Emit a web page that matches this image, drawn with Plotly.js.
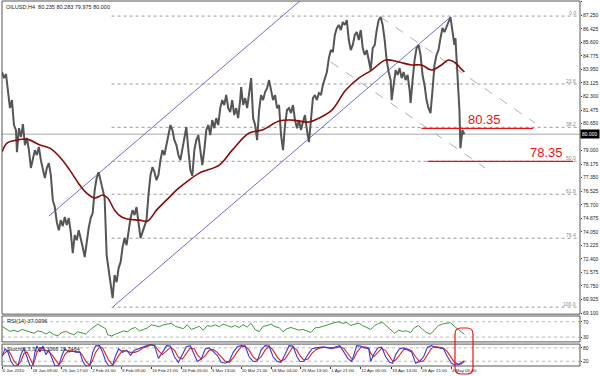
<!DOCTYPE html>
<html>
<head>
<meta charset="utf-8">
<script src="https://cdn.plot.ly/plotly-3.0.1.min.js"></script>
<style>html,body{margin:0;padding:0;background:#fff}#chart{width:600px;height:376px}</style>
</head>
<body>
<div id="chart"></div>
<script>
// ---------- DATA ----------
const symbolTitle = "OILUSD,H4  80.235 80.283 79.975 80.000";
const rsiTitle = "RSI(14) 37.0096";
const stochTitle = "Stoch(5,3,3) 22.3066 19.7464";

const xTickBars = [0,30,60,90,120,150,180,210,240,270,300,330,360,391,421,451];
const xTickText = ["6 Jan 2010","18 Jan 09:00","25 Jan 17:00","2 Feb 01:00","9 Feb 09:00","16 Feb 21:00","24 Feb 05:00","3 Mar 13:00","10 Mar 21:00","18 Mar 04:00","25 Mar 13:00","1 Apr 21:00","12 Apr 05:00","19 Apr 13:00","26 Apr 21:00","4 May 05:00"];

// price-scale labels (the 79.825 label sits under the last-price box and is not shown)
const yTickVals = [69.100,69.925,70.750,71.575,72.400,73.225,74.050,74.875,75.700,76.525,77.350,78.175,79.000,80.650,81.475,82.300,83.125,83.950,84.775,85.600,86.425,87.250,88.075];

const priceBars = [0,2,4,6,8,10,12,14,15,17,19,21,23,25,27,29,31,33,35,37,39,41,43,45,47,49,51,53,55,57,59,61,63,65,67,69,71,73,75,77,79,81,83,85,87,89,91,93,95,97,99,101,103,105,107,109,111,113,115,117,119,121,123,125,127,129,131,133,135,137,139,141,143,145,147,149,151,153,155,157,159,161,163,165,167,169,171,173,175,177,179,181,183,185,187,189,191,193,195,197,199,201,203,205,207,209,211,213,215,217,219,221,223,225,227,229,231,233,235,237,239,240,242,244,246,248,250,252,254,256,258,260,262,264,266,268,270,272,274,276,278,280,282,284,286,288,290,292,294,296,298,300,302,304,306,308,310,312,314,316,318,320,322,324,326,328,330,332,334,336,338,340,342,344,346,348,350,352,354,356,358,360,362,364,366,368,370,372,374,376,378,380,382,384,386,388,390,391,393,395,397,399,401,403,405,407,409,410,412,414,416,418,420,422,424,426,428,430,432,434,436,438,440,442,444,446,448,450,452,454,455,457,459,460,462,464];
const priceVals = [83.79,83.42,83.67,82.39,81.59,82.08,80.56,80.25,78.91,80.37,79.83,80.62,79.34,79.77,79.03,77.94,78.55,79.03,78.73,79.22,78.42,77.81,77.33,77.94,78.24,77.51,75.98,75.56,74.64,74.15,74.76,74.40,74.95,74.46,74.89,74.03,72.75,73.85,73.54,74.15,73.67,73.12,72.51,73.54,74.28,74.89,75.19,76.59,77.33,77.69,77.20,76.59,76.11,72.63,71.72,70.80,70.01,71.41,70.98,71.84,72.20,73.12,73.67,73.24,74.15,74.89,75.37,75.07,75.56,74.64,73.67,74.03,74.46,74.76,76.29,77.51,78.00,77.69,77.20,77.51,78.42,79.03,78.73,79.34,79.95,80.56,80.25,79.64,79.34,78.73,78.42,79.15,79.95,80.44,79.03,77.81,77.45,79.03,79.64,79.95,79.03,78.12,79.03,80.25,80.56,79.95,80.86,80.37,80.98,80.56,81.59,82.08,81.78,82.39,81.59,81.35,82.08,81.17,81.59,80.98,82.08,82.87,81.78,82.20,81.59,82.39,83.42,80.98,80.56,79.64,81.47,82.39,82.08,82.57,82.81,83.30,82.57,82.08,82.39,81.59,81.78,79.95,79.03,80.56,81.47,81.59,81.29,81.78,80.86,80.37,80.86,80.25,80.74,81.17,80.25,79.52,80.86,82.20,82.39,82.08,82.51,82.39,83.00,83.42,83.79,84.64,85.13,85.01,86.05,86.47,86.66,86.35,86.84,86.66,86.96,85.74,85.13,85.44,86.05,86.23,85.74,86.35,85.25,84.83,85.13,84.52,83.91,85.25,85.44,86.35,86.96,87.14,86.66,85.74,84.52,83.79,83.30,82.08,83.00,83.91,83.61,84.03,83.42,83.79,83.30,83.61,82.69,81.90,83.30,84.52,85.25,85.44,84.83,83.61,83.00,82.08,81.59,81.29,82.69,84.22,84.83,85.13,85.86,86.47,86.23,86.59,86.84,87.14,86.35,85.44,85.86,83.30,81.47,79.15,80.25,80.00];

const maBars = [0,5,15,25,38,48,58,68,78,85,93,101,106,113,120,126,138,146,155,165,175,185,198,218,231,248,261,278,291,308,318,331,345,358,371,385,398,411,421,431,441,448,455,460,464];
const maVals = [78.91,79.46,79.64,79.70,79.34,79.15,78.61,77.81,76.90,76.41,76.11,76.29,76.11,75.37,74.95,74.83,74.76,74.70,75.37,75.98,76.59,77.08,77.63,78.12,79.03,80.07,80.25,80.80,80.86,80.74,80.98,81.47,82.69,83.42,83.91,84.52,84.40,84.22,84.22,83.91,84.22,84.52,84.34,84.03,83.79];

// trend channel endpoints [bar, price]
const blueUpperBars = [47,300], blueUpperVals = [75.01,88.18];
const blueLowerBars = [111,450], blueLowerVals = [69.46,87.14];
const grayUpperBars = [380,535], grayUpperVals = [87.14,80.68];
const grayLowerBars = [330,485], grayLowerVals = [84.40,77.94];

// Fibonacci retracement
const fibLabels = ["0.0","23.6","38.2","50.0","61.8","76.4","100.0"];
const fibPrices = [87.20,83.06,80.42,78.35,76.34,73.66,69.46];
const fibStartBar = 110, fibEndBar = 578;

// support levels (red)
const levelTexts = ["80.35","78.35"];
const levelVals = [80.35,78.35];
const levelStartBars = [421,427];
const levelEndBars = [533,573];
const levelTextBars = [484,546];

const lastPrice = 80.000;

const rsiBars = [0,4,8,12,16,20,24,28,32,36,40,44,48,52,56,60,64,68,72,76,80,84,88,92,96,100,104,106,110,114,118,122,126,130,134,138,142,146,150,154,158,162,166,170,174,178,182,186,190,194,198,202,206,210,214,218,222,226,230,234,238,242,246,250,254,258,262,266,270,274,278,282,286,290,294,298,302,306,310,314,318,322,326,330,334,338,342,346,350,354,358,362,366,370,374,378,382,386,390,394,398,402,406,410,414,418,422,426,430,434,438,442,446,450,454,458,462,464];
const rsiVals = [58,52,45,48,44,50,46,42,40,46,44,38,44,36,34,42,45,40,36,44,42,38,48,56,64,58,52,36,33,38,42,46,44,52,55,46,50,54,62,60,57,62,64,66,58,55,52,62,50,54,58,48,60,58,62,57,64,60,56,60,55,62,56,66,50,44,58,60,64,57,55,44,52,55,52,48,50,45,42,54,55,58,62,66,68,70,66,68,60,64,66,60,56,50,60,66,68,58,48,40,48,45,46,42,55,60,50,42,38,50,60,64,66,68,58,50,42,37.01];
const rsiLevels = [70,30];

const stochBars = [0,3,6,9,12,16,19,22,25,28,31,33,35,38,41,44,47,50,53,57,60,63,67,71,75,78,81,84,88,91,94,98,101,104,107,111,113,117,121,125,129,133,137,141,145,149,153,157,161,165,169,173,177,181,185,189,193,196,200,204,208,212,216,220,224,228,232,236,240,244,248,252,256,260,264,268,272,276,280,284,288,292,296,299,303,307,311,315,319,323,327,331,335,339,343,347,351,353,356,360,364,368,370,373,377,381,385,389,392,395,399,403,407,411,415,419,423,427,431,435,439,443,447,451,454,458,461,464];
const stochK = [40,77,60,20,0,0,50,77,40,0,0,60,89,62,89,50,70,30,0,0,45,76,62,65,60,62,20,0,0,60,89,90,60,20,0,0,33,76,60,70,47,70,76,85,90,97,90,33,60,90,88,40,15,50,85,90,50,19,30,76,80,62,47,15,11,20,60,85,90,88,40,19,20,70,90,88,40,19,15,50,90,88,40,19,20,50,76,80,83,85,80,76,85,90,62,33,19,50,90,88,80,76,19,50,80,83,40,15,11,50,76,80,70,62,11,19,40,83,90,83,80,76,40,11,4,4,15,22.31];
const stochD = [45,60,70,50,20,2,20,55,62,35,5,25,60,78,78,68,62,50,30,5,20,50,68,65,63,62,45,20,2,25,60,85,80,55,25,3,15,45,68,66,60,60,66,78,85,92,93,68,50,65,82,70,38,30,55,80,75,50,30,45,70,72,60,38,20,15,35,62,85,88,70,40,25,40,70,88,70,40,20,30,60,85,70,45,25,30,55,72,80,83,82,80,80,85,78,55,30,30,60,82,85,80,55,40,60,78,68,40,20,25,50,72,76,68,40,18,22,50,78,86,84,80,62,35,15,6,8,19.75];
const stochLevels = [80,20];

// ---------- BUILD ----------
const traces = [];
const fibX = [], fibY = [];
fibPrices.forEach(p => { fibX.push(fibStartBar, fibEndBar, null); fibY.push(p, p, null); });
traces.push({x: fibX, y: fibY, mode: 'lines', line: {color: '#9a9a9a', width: 1, dash: 'dot'}, hoverinfo: 'skip'});
traces.push({x: [0, 580], y: [lastPrice, lastPrice], mode: 'lines', line: {color: '#c4c4c4', width: 1.5}, hoverinfo: 'skip'});
traces.push({x: grayUpperBars, y: grayUpperVals, mode: 'lines', line: {color: '#b0b0b0', width: 1, dash: 'dash'}});
traces.push({x: grayLowerBars, y: grayLowerVals, mode: 'lines', line: {color: '#b0b0b0', width: 1, dash: 'dash'}});
traces.push({x: blueUpperBars, y: blueUpperVals, mode: 'lines', line: {color: '#6f6fd0', width: 1}});
traces.push({x: blueLowerBars, y: blueLowerVals, mode: 'lines', line: {color: '#6f6fd0', width: 1}});
traces.push({x: priceBars, y: priceVals, mode: 'lines', line: {color: '#555555', width: 2}});
traces.push({x: maBars, y: maVals, mode: 'lines', line: {color: '#8b0a0a', width: 1.6, shape: 'spline'}});
levelVals.forEach((v, i) => {
  traces.push({x: [levelStartBars[i], levelEndBars[i]], y: [v, v], mode: 'lines', line: {color: '#ee1111', width: 1.3}});
});
// RSI
traces.push(...rsiLevels.map(v => ({x: [0, 580], y: [v, v], yaxis: 'y2', mode: 'lines', line: {color: '#b8b8b8', width: 1, dash: 'dot'}})));
traces.push({x: rsiBars, y: rsiVals, yaxis: 'y2', mode: 'lines', line: {color: '#3c9a3c', width: 1}});
// Stoch
traces.push(...stochLevels.map(v => ({x: [0, 580], y: [v, v], yaxis: 'y3', mode: 'lines', line: {color: '#b8b8b8', width: 1, dash: 'dot'}})));
traces.push({x: stochBars, y: stochD, yaxis: 'y3', mode: 'lines', line: {color: '#e82020', width: 1.1}});
traces.push({x: stochBars, y: stochK, yaxis: 'y3', mode: 'lines', line: {color: '#3a3ad8', width: 1.1}});

const font = 'Liberation Sans, Arial, sans-serif';
const small = 5.5;
const annotations = [];
annotations.push({xref: 'paper', yref: 'paper', x: 0.003, y: 0.997, xanchor: 'left', yanchor: 'top', text: symbolTitle, showarrow: false, font: {family: font, size: small, color: '#222'}});
annotations.push({xref: 'paper', yref: 'paper', x: 0.005, y: 0.136, xanchor: 'left', yanchor: 'top', text: rsiTitle, showarrow: false, font: {family: font, size: small, color: '#222'}});
annotations.push({xref: 'paper', yref: 'paper', x: 0.005, y: 0.059, xanchor: 'left', yanchor: 'top', text: stochTitle, showarrow: false, font: {family: font, size: small, color: '#222'}});
fibPrices.forEach((p, i) => annotations.push({x: fibEndBar, y: p, xanchor: 'right', yanchor: 'bottom', text: fibLabels[i], showarrow: false, font: {family: font, size: 5, color: '#8a8a8a'}, yshift: -2}));
levelVals.forEach((v, i) => annotations.push({x: levelTextBars[i], y: v, xanchor: 'center', yanchor: 'bottom', text: levelTexts[i], showarrow: false, font: {family: font, size: 13, color: '#ee1111'}, yshift: -1}));
annotations.push({xref: 'paper', x: 1.0, y: lastPrice, xanchor: 'left', yanchor: 'middle', text: lastPrice.toFixed(3), showarrow: false, bgcolor: '#000', font: {family: font, size: 5, color: '#fff'}, borderpad: 1});

const W = 578, H = 365;
const rx = 6/W, ry = 6/H;
const bx0 = (455-2)/W, bx1 = (473-2)/W, by0 = (366-374)/H, by1 = (366-328)/H;
const roundPath = `M ${bx0+rx},${by0} L ${bx1-rx},${by0} Q ${bx1},${by0} ${bx1},${by0+ry} L ${bx1},${by1-ry} Q ${bx1},${by1} ${bx1-rx},${by1} L ${bx0+rx},${by1} Q ${bx0},${by1} ${bx0},${by1-ry} L ${bx0},${by0+ry} Q ${bx0},${by0} ${bx0+rx},${by0} Z`;

const mainDom = [0.142, 1], rsiDom = [0.066, 0.137], stochDom = [0, 0.060];
const shapes = [
  {type: 'rect', xref: 'paper', yref: 'paper', x0: 0, x1: 1, y0: mainDom[0], y1: mainDom[1], line: {color: '#555', width: 1}},
  {type: 'rect', xref: 'paper', yref: 'paper', x0: 0, x1: 1, y0: rsiDom[0], y1: rsiDom[1], line: {color: '#555', width: 1}},
  {type: 'rect', xref: 'paper', yref: 'paper', x0: 0, x1: 1, y0: stochDom[0], y1: stochDom[1], line: {color: '#555', width: 1}},
  {type: 'path', xref: 'paper', yref: 'paper', path: roundPath, line: {color: '#ee1111', width: 1.2}}
];

const tf = {family: font, size: 5, color: '#222'};
const layout = {
  width: 600, height: 376,
  margin: {l: 2, r: 20, t: 1, b: 10},
  paper_bgcolor: '#fff', plot_bgcolor: '#fff',
  showlegend: false,
  xaxis: {range: [0, 580], domain: [0, 1], anchor: 'y3', tickvals: xTickBars, ticktext: xTickText,
          tickangle: 0, ticks: 'outside', ticklen: 2, tickcolor: '#333', tickfont: {family: font, size: 4.4, color: '#222'},
          ticklabelposition: 'outside right', showgrid: false, zeroline: false, showline: false},
  yaxis: {domain: mainDom, range: [69.03, 88.12], side: 'right', anchor: 'x', tickvals: yTickVals,
          ticktext: yTickVals.map(v => v.toFixed(3)), ticks: 'outside', ticklen: 1, tickcolor: '#333',
          tickfont: tf, showgrid: false, zeroline: false, showline: false},
  yaxis2: {domain: rsiDom, range: [17.5, 85], side: 'right', anchor: 'x', tickvals: rsiLevels,
           ticktext: rsiLevels.map(String), ticks: 'outside', ticklen: 1, tickcolor: '#333',
           tickfont: tf, showgrid: false, zeroline: false, showline: false},
  yaxis3: {domain: stochDom, range: [-1.4, 97.1], side: 'right', anchor: 'x', tickvals: stochLevels,
           ticktext: stochLevels.map(String), ticks: 'outside', ticklen: 1, tickcolor: '#333',
           tickfont: tf, showgrid: false, zeroline: false, showline: false},
  annotations: annotations,
  shapes: shapes
};

Plotly.newPlot('chart', traces, layout, {displayModeBar: false, staticPlot: true});
</script>
</body>
</html>
